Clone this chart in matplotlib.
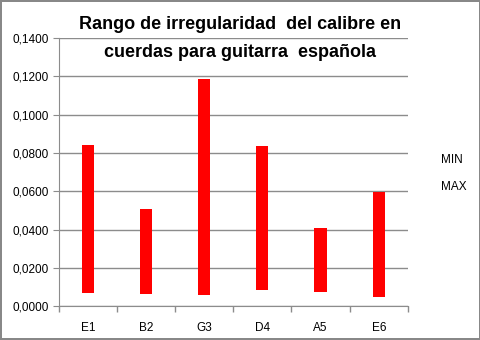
import numpy as np
import matplotlib
matplotlib.use('Agg')
import matplotlib.pyplot as plt
from matplotlib.patches import Patch
from matplotlib.ticker import FuncFormatter, MultipleLocator

# datos
cuerdas = ['E1', 'B2', 'G3', 'D4', 'A5', 'E6']
v_min = [0.0071, 0.0066, 0.0059, 0.0085, 0.0075, 0.0049]
v_max = [0.0842, 0.0508, 0.1187, 0.0837, 0.0409, 0.0598]

plt.rcParams['font.family'] = ['Liberation Sans', 'DejaVu Sans']

fig = plt.figure(figsize=(4.81, 3.40), dpi=100)
fig.patch.set_edgecolor('#888888')
fig.patch.set_linewidth(1.5)
ax = fig.add_axes([0.122, 0.099, 0.726, 0.789])

x = np.arange(len(cuerdas))
alto = np.array(v_max) - np.array(v_min)
ax.bar(x, alto, bottom=v_min, width=0.21, color='#ff0000', zorder=3)

ax.set_xlim(-0.5, len(cuerdas) - 0.5)
ax.set_ylim(0, 0.14)
ax.yaxis.set_major_locator(MultipleLocator(0.02))
ax.yaxis.set_major_formatter(FuncFormatter(lambda v, p: ('%.4f' % v).replace('.', ',')))
ax.grid(axis='y', color='#8c8c8c', linewidth=1, zorder=0)

ax.set_xticks(x)
ax.set_xticklabels(cuerdas)
ax.set_xticks(np.arange(-0.5, len(cuerdas)), minor=True)
ax.tick_params(axis='x', which='major', length=0, pad=11, labelsize=8.5)
ax.tick_params(axis='x', which='minor', length=4, color='#8c8c8c', width=1)
ax.tick_params(axis='y', length=4, color='#8c8c8c', labelsize=8.5, pad=3)

for s in ['top', 'right']:
    ax.spines[s].set_visible(False)
for s in ['left', 'bottom']:
    ax.spines[s].set_color('#8c8c8c')

fig.text(0.5, 0.886, 'Rango de irregularidad  del calibre en\ncuerdas para guitarra  española',
         ha='center', va='center', multialignment='center',
         fontsize=13, fontweight='bold', linespacing=1.85)

h = [Patch(facecolor='none', edgecolor='none'), Patch(facecolor='none', edgecolor='none')]
fig.legend(h, ['MIN', 'MAX'], loc='center left', bbox_to_anchor=(0.895, 0.49),
           frameon=False, handlelength=0, handletextpad=0, fontsize=8.5, labelspacing=1.3)

fig.savefig('out.png', dpi=100, edgecolor=fig.get_edgecolor())
